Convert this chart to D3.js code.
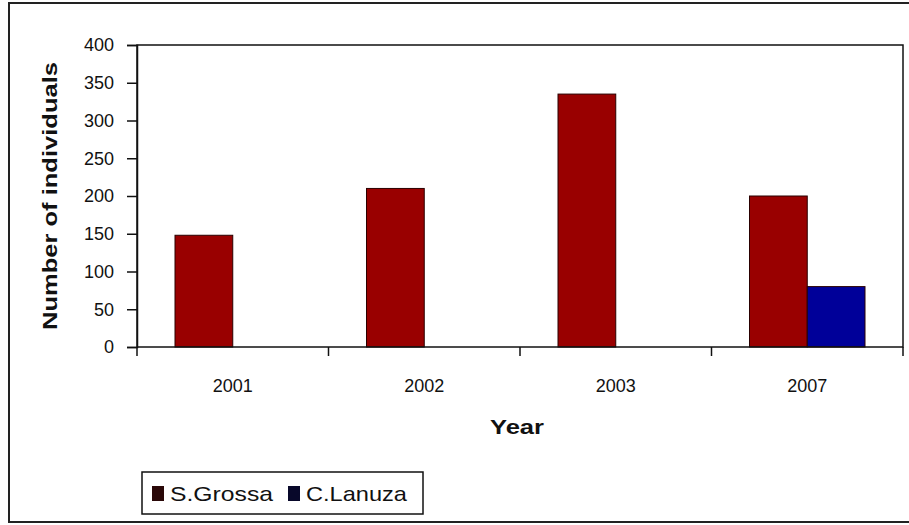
<!DOCTYPE html>
<html>
<head>
<meta charset="utf-8">
<script src="https://cdn.jsdelivr.net/npm/d3@7"></script>
<style>
  body { margin: 0; background: #fff; }
  text { font-family: 'Liberation Sans', Arial, sans-serif; fill: #111; }
</style>
</head>
<body>
<div id="chart"></div>
<script>
const years = ['2001', '2002', '2003', '2007']
const seriesNames = ['S.Grossa', 'C.Lanuza']
const sGrossa = [148, 210, 335, 200]
const cLanuza = [0, 0, 0, 80]
const yTicks = [0, 50, 100, 150, 200, 250, 300, 350, 400]
const colors = ['#990000', '#000099']
const legendColors = ['#2a0808', '#08082a']

const W = 909
const H = 525
const plot = { left: 137, right: 903, top: 45, bottom: 347 }

const svg = d3
  .select('#chart')
  .append('svg')
  .attr('width', W)
  .attr('height', H)

// outer chart border (left, top, bottom visible)
svg
  .append('path')
  .attr('d', `M${W},3 H9 V522 H${W}`)
  .attr('fill', 'none')
  .attr('stroke', '#222')
  .attr('stroke-width', 2)

const y = d3
  .scaleLinear()
  .domain([0, 400])
  .range([plot.bottom, plot.top])

const x0 = d3
  .scaleBand()
  .domain(years)
  .range([plot.left, plot.right])

const x1 = d3
  .scaleBand()
  .domain(seriesNames)
  .range([38, x0.bandwidth() - 38])

const rows = years.map((yr, i) => ({
  year: yr,
  values: [
    { name: seriesNames[0], value: sGrossa[i] },
    { name: seriesNames[1], value: cLanuza[i] }
  ]
}))

// bars
const groups = svg
  .selectAll('.year')
  .data(rows)
  .enter()
  .append('g')
  .attr('class', 'year')
  .attr('transform', d => 'translate(' + x0(d.year) + ',0)')

groups
  .selectAll('rect')
  .data(d => d.values.filter(v => v.value > 0))
  .enter()
  .append('rect')
  .attr('x', d => x1(d.name))
  .attr('y', d => y(d.value))
  .attr('width', x1.bandwidth())
  .attr('height', d => y(0) - y(d.value))
  .attr('fill', d => colors[seriesNames.indexOf(d.name)])
  .attr('stroke', '#2a0000')
  .attr('stroke-width', 1)

// plot frame
svg
  .append('rect')
  .attr('x', plot.left)
  .attr('y', plot.top)
  .attr('width', plot.right - plot.left)
  .attr('height', plot.bottom - plot.top)
  .attr('fill', 'none')
  .attr('stroke', '#111')
  .attr('stroke-width', 1.5)

// y axis
const yAxis = d3.axisLeft(y).tickValues(yTicks).tickSize(10).tickPadding(13)
svg
  .append('g')
  .attr('class', 'axis y-axis')
  .attr('transform', 'translate(' + plot.left + ',0)')
  .call(yAxis)
  .call(g => g.select('.domain').attr('stroke', '#111').attr('stroke-width', 1.5))
  .call(g => g.selectAll('line').attr('stroke', '#111').attr('stroke-width', 1.5))
  .call(g => g.selectAll('text').attr('font-size', 18).attr('font-family', 'Liberation Sans, Arial').attr('fill', '#111'))

// x axis labels
const xAxis = d3.axisBottom(x0).tickSize(0).tickPadding(32)
svg
  .append('g')
  .attr('class', 'axis x-axis')
  .attr('transform', 'translate(0,' + plot.bottom + ')')
  .call(xAxis)
  .call(g => g.select('.domain').remove())
  .call(g => g.selectAll('text').attr('font-size', 18).attr('font-family', 'Liberation Sans, Arial').attr('fill', '#111'))

// x ticks at category boundaries
const edges = years.map(d => x0(d)).concat([x0.range()[1]])
svg
  .selectAll('.x-tick')
  .data(edges)
  .enter()
  .append('line')
  .attr('class', 'x-tick')
  .attr('x1', d => d)
  .attr('x2', d => d)
  .attr('y1', plot.bottom)
  .attr('y2', plot.bottom + 9)
  .attr('stroke', '#111')
  .attr('stroke-width', 1.5)

// axis titles
svg
  .append('text')
  .attr('transform', 'translate(57,196) rotate(-90)')
  .attr('text-anchor', 'middle')
  .attr('font-weight', 'bold')
  .attr('font-size', 21)
  .attr('textLength', 268)
  .attr('lengthAdjust', 'spacingAndGlyphs')
  .text('Number of individuals')

svg
  .append('text')
  .attr('x', 517)
  .attr('y', 434)
  .attr('text-anchor', 'middle')
  .attr('font-weight', 'bold')
  .attr('font-size', 21)
  .attr('textLength', 54)
  .attr('lengthAdjust', 'spacingAndGlyphs')
  .text('Year')

// legend
const legend = svg.append('g').attr('transform', 'translate(142,472)')
legend
  .append('rect')
  .attr('width', 281)
  .attr('height', 42)
  .attr('fill', '#fff')
  .attr('stroke', '#111')
  .attr('stroke-width', 1.5)

const legendX = [10, 146]
const legendLen = [103, 101]
const items = legend
  .selectAll('.legend-item')
  .data(seriesNames)
  .enter()
  .append('g')
  .attr('class', 'legend-item')
  .attr('transform', (d, i) => 'translate(' + legendX[i] + ',0)')

items
  .append('rect')
  .attr('x', 0)
  .attr('y', 14)
  .attr('width', 12)
  .attr('height', 15)
  .attr('fill', (d, i) => legendColors[i])

items
  .append('text')
  .attr('x', 18)
  .attr('y', 29)
  .attr('font-size', 21)
  .attr('textLength', (d, i) => legendLen[i])
  .attr('lengthAdjust', 'spacingAndGlyphs')
  .text(d => d)
</script>
</body>
</html>
